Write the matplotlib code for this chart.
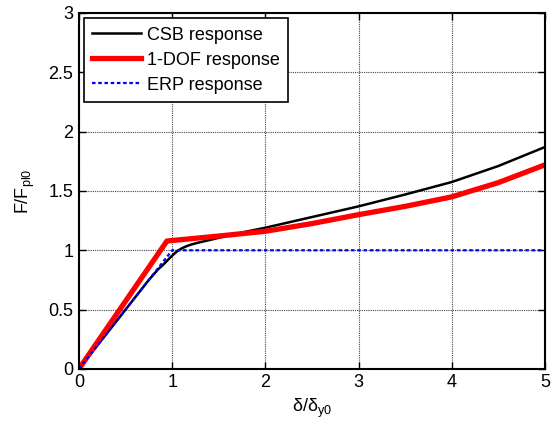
import matplotlib
matplotlib.use('Agg')
import matplotlib.pyplot as plt

plt.rcParams['font.family'] = ['Liberation Sans', 'DejaVu Sans']
plt.rcParams['mathtext.fontset'] = 'custom'
plt.rcParams['mathtext.rm'] = 'Liberation Sans'
plt.rcParams['mathtext.it'] = 'Liberation Sans'

# CSB response (black)
csb_x = [0, 0.25, 0.5, 0.75, 0.85, 0.9, 0.95, 1.0, 1.05, 1.1, 1.15, 1.2, 1.25, 1.3, 1.4, 1.5,
         1.75, 2.0, 2.5, 3.0, 3.5, 4.0, 4.5, 5.0]
csb_y = [0, 0.25, 0.50, 0.75, 0.84, 0.875, 0.915, 0.955, 0.99, 1.015, 1.033, 1.047, 1.058, 1.068,
         1.086, 1.105, 1.15, 1.19, 1.28, 1.37, 1.47, 1.575, 1.71, 1.87]

# 1-DOF response (red)
dof_x = [0, 0.944, 1.5, 2.0, 2.5, 3.0, 3.5, 4.0, 4.5, 5.0]
dof_y = [0, 1.078, 1.12, 1.16, 1.225, 1.30, 1.37, 1.45, 1.57, 1.72]

# ERP response (blue)
erp_x = [0, 1.0, 5.0]
erp_y = [0, 1.0, 1.0]

fig = plt.figure(figsize=(5.56, 4.33), dpi=100)
ax = fig.add_axes([0.142, 0.148, 0.838, 0.822])

ax.plot(csb_x, csb_y, color='black', lw=1.8, label='CSB response')
ax.plot(dof_x, dof_y, color='red', lw=3.8, label='1-DOF response')
ax.plot(erp_x, erp_y, color='blue', lw=1.6, ls=(0, (1.6, 1.2)), label='ERP response')

ax.set_xlim(0, 5)
ax.set_ylim(0, 3)
ax.set_xticks([0, 1, 2, 3, 4, 5])
ax.set_yticks([0, 0.5, 1, 1.5, 2, 2.5, 3])
ax.set_yticklabels(['0', '0.5', '1', '1.5', '2', '2.5', '3'])
ax.tick_params(direction='in', top=True, right=True, labelsize=13, length=5, width=1, pad=4)
ax.grid(True, color='#444444', ls=(0, (1, 1)), lw=0.8)
for s in ax.spines.values():
    s.set_linewidth(1.5)

ax.set_xlabel(r'δ/δ$_{\mathrm{y0}}$', fontsize=13, labelpad=4)
ax.set_ylabel(r'F/F$_{\mathrm{pl0}}$', fontsize=13, labelpad=8)

leg = ax.legend(loc='upper left', fontsize=13, fancybox=False, edgecolor='black',
                framealpha=1, handlelength=2.7, handletextpad=0.3, borderaxespad=0.3,
                labelspacing=0.45, borderpad=0.45)
leg.get_frame().set_linewidth(1.2)

fig.savefig('out.png', dpi=100)
